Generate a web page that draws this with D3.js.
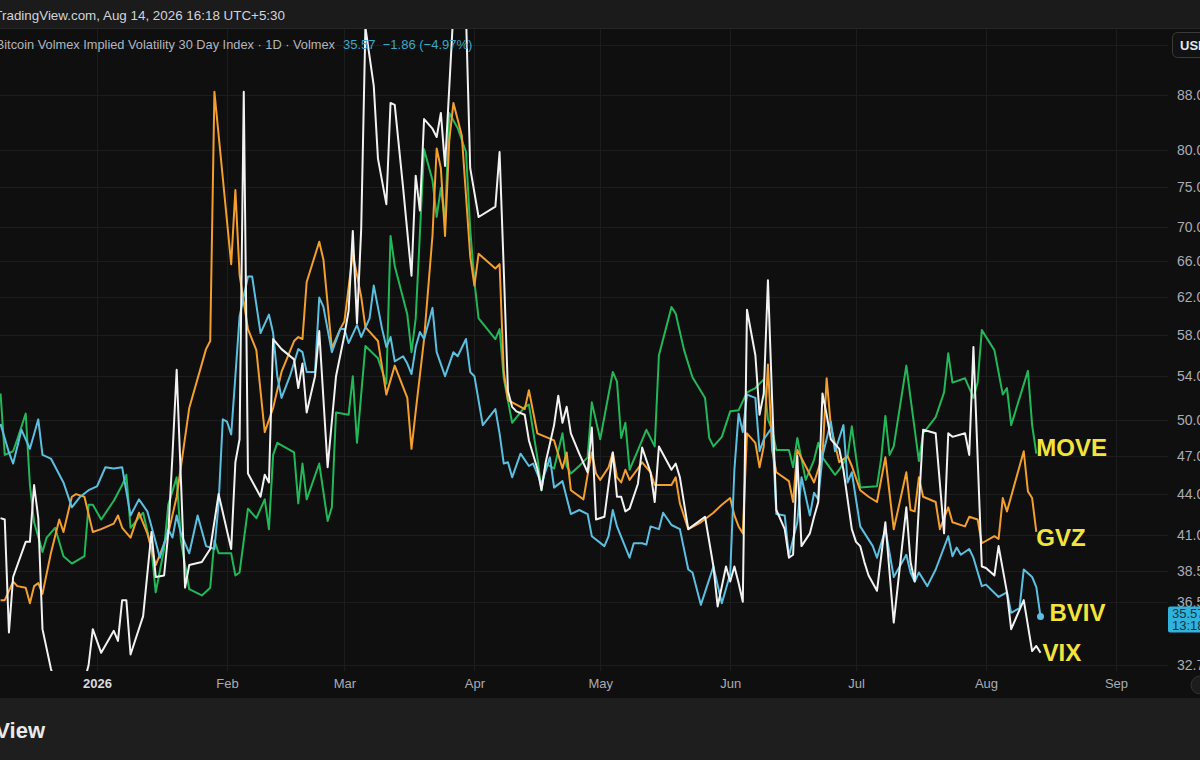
<!DOCTYPE html>
<html lang="en">
	<head>
		<meta charset="utf-8">
		<title>BVIV vs GVZ, MOVE and VIX</title>
		<script src="https://d3js.org/d3.v7.min.js"></script>
		<style type="text/css">
			html, body {
				margin: 0;
				padding: 0;
				background: #0f0f0f;
				overflow: hidden;
			}
			svg {
				display: block;
			}
		</style>
	</head>
	<body>
		<script type="text/javascript">

			//Series: [date, value]
			var bviv = [
				["2025-12-09", 49.7], ["2025-12-11", 47.3], ["2025-12-12", 46.4], ["2025-12-14", 49.2], ["2025-12-16", 47.6],
				["2025-12-18", 50.1], ["2025-12-19", 47.1], ["2025-12-21", 46.8], ["2025-12-24", 44.9], ["2025-12-26", 43.0],
				["2025-12-28", 43.8], ["2025-12-30", 44.3], ["2026-01-01", 44.6], ["2026-01-03", 46.1], ["2026-01-05", 46.0],
				["2026-01-07", 46.1], ["2026-01-09", 42.4], ["2026-01-11", 43.6], ["2026-01-13", 42.7], ["2026-01-14", 41.6],
				["2026-01-16", 39.4], ["2026-01-18", 41.4], ["2026-01-19", 40.8], ["2026-01-20", 42.4], ["2026-01-21", 41.1],
				["2026-01-23", 39.7], ["2026-01-25", 42.4], ["2026-01-27", 40.2], ["2026-01-29", 40.0], ["2026-01-30", 43.3],
				["2026-01-31", 50.1], ["2026-02-01", 49.9], ["2026-02-02", 48.8], ["2026-02-03", 54.0], ["2026-02-04", 59.9],
				["2026-02-06", 64.2], ["2026-02-07", 64.2], ["2026-02-09", 58.2], ["2026-02-11", 60.1], ["2026-02-12", 58.2],
				["2026-02-13", 54.0], ["2026-02-14", 52.0], ["2026-02-16", 54.0], ["2026-02-18", 56.6], ["2026-02-19", 56.3],
				["2026-02-20", 54.4], ["2026-02-22", 54.4], ["2026-02-23", 61.9], ["2026-02-24", 60.9], ["2026-02-26", 56.3],
				["2026-02-28", 58.6], ["2026-03-01", 58.6], ["2026-03-02", 57.2], ["2026-03-04", 59.0], ["2026-03-05", 57.8],
				["2026-03-07", 59.7], ["2026-03-08", 63.2], ["2026-03-10", 58.6], ["2026-03-11", 56.8], ["2026-03-12", 57.8],
				["2026-03-13", 55.4], ["2026-03-15", 55.9], ["2026-03-16", 55.2], ["2026-03-17", 54.2], ["2026-03-18", 56.8],
				["2026-03-19", 58.3], ["2026-03-20", 57.6], ["2026-03-22", 60.8], ["2026-03-23", 56.3], ["2026-03-25", 54.0],
				["2026-03-27", 56.3], ["2026-03-28", 55.9], ["2026-03-30", 57.6], ["2026-03-31", 54.4], ["2026-04-01", 54.0],
				["2026-04-03", 49.6], ["2026-04-06", 51.0], ["2026-04-07", 48.9], ["2026-04-08", 46.4], ["2026-04-09", 46.5],
				["2026-04-10", 45.3], ["2026-04-12", 47.2], ["2026-04-14", 46.2], ["2026-04-15", 46.4], ["2026-04-16", 45.6],
				["2026-04-17", 44.8], ["2026-04-19", 46.9], ["2026-04-20", 44.5], ["2026-04-22", 45.0], ["2026-04-24", 42.5],
				["2026-04-26", 42.8], ["2026-04-28", 42.5], ["2026-04-29", 40.9], ["2026-05-02", 40.2], ["2026-05-03", 40.9],
				["2026-05-04", 42.8], ["2026-05-05", 41.6], ["2026-05-08", 39.4], ["2026-05-09", 40.4], ["2026-05-11", 40.4],
				["2026-05-12", 40.3], ["2026-05-13", 41.6], ["2026-05-15", 41.4], ["2026-05-16", 42.6], ["2026-05-18", 41.7],
				["2026-05-20", 41.4], ["2026-05-22", 38.6], ["2026-05-23", 38.4], ["2026-05-25", 36.3], ["2026-05-28", 38.8],
				["2026-05-30", 36.4], ["2026-06-01", 38.3], ["2026-06-02", 45.9], ["2026-06-03", 50.6], ["2026-06-04", 49.0],
				["2026-06-05", 52.3], ["2026-06-07", 52.0], ["2026-06-08", 47.4], ["2026-06-09", 48.4], ["2026-06-11", 49.4],
				["2026-06-12", 42.5], ["2026-06-14", 42.4], ["2026-06-15", 39.5], ["2026-06-17", 41.9], ["2026-06-18", 45.3],
				["2026-06-20", 42.4], ["2026-06-21", 44.1], ["2026-06-22", 43.6], ["2026-06-23", 47.0], ["2026-06-25", 49.9],
				["2026-06-26", 47.4], ["2026-06-28", 49.6], ["2026-06-29", 44.9], ["2026-06-30", 45.7], ["2026-07-02", 41.6],
				["2026-07-05", 40.2], ["2026-07-06", 39.4], ["2026-07-08", 41.4], ["2026-07-10", 38.1], ["2026-07-13", 39.6],
				["2026-07-14", 38.4], ["2026-07-15", 37.8], ["2026-07-16", 38.4], ["2026-07-18", 37.5], ["2026-07-20", 38.6],
				["2026-07-23", 40.9], ["2026-07-24", 39.5], ["2026-07-25", 40.1], ["2026-07-26", 39.6], ["2026-07-28", 40.0],
				["2026-07-29", 39.4], ["2026-07-31", 37.5], ["2026-08-01", 37.6], ["2026-08-04", 36.8], ["2026-08-06", 37.1],
				["2026-08-07", 35.8], ["2026-08-09", 36.1], ["2026-08-10", 38.6], ["2026-08-12", 38.1], ["2026-08-13", 37.43],
				["2026-08-14", 35.57]
			];

			var vix = [
				["2025-12-09", 42.2], ["2025-12-10", 42.1], ["2025-12-11", 34.6], ["2025-12-12", 38.1], ["2025-12-15", 40.5],
				["2025-12-16", 40.5], ["2025-12-17", 44.7], ["2025-12-18", 42.2], ["2025-12-19", 34.8], ["2025-12-21", 32.5],
				["2025-12-23", 30.8], ["2025-12-26", 31.2], ["2025-12-28", 30.9], ["2025-12-30", 32.7], ["2025-12-31", 34.8],
				["2026-01-02", 33.4], ["2026-01-05", 34.7], ["2026-01-06", 34.1], ["2026-01-07", 36.6], ["2026-01-08", 36.6],
				["2026-01-09", 33.3], ["2026-01-12", 35.6], ["2026-01-14", 41.2], ["2026-01-15", 38.1], ["2026-01-17", 38.2],
				["2026-01-18", 41.1], ["2026-01-19", 47.1], ["2026-01-20", 54.6], ["2026-01-21", 45.2], ["2026-01-22", 37.4],
				["2026-01-23", 38.9], ["2026-01-26", 39.1], ["2026-01-28", 40.0], ["2026-01-30", 44.0], ["2026-02-02", 40.0],
				["2026-02-03", 46.5], ["2026-02-04", 48.4], ["2026-02-05", 88.5], ["2026-02-06", 45.6], ["2026-02-09", 43.8],
				["2026-02-10", 45.5], ["2026-02-11", 44.9], ["2026-02-12", 57.6], ["2026-02-14", 56.6], ["2026-02-17", 55.6],
				["2026-02-18", 52.9], ["2026-02-19", 55.2], ["2026-02-20", 50.7], ["2026-02-22", 54.0], ["2026-02-23", 58.4],
				["2026-02-25", 46.1], ["2026-02-27", 54.0], ["2026-03-01", 58.0], ["2026-03-02", 60.5], ["2026-03-03", 69.5],
				["2026-03-04", 59.2], ["2026-03-05", 69.7], ["2026-03-06", 99.0], ["2026-03-08", 89.4], ["2026-03-09", 78.8],
				["2026-03-11", 72.8], ["2026-03-12", 86.8], ["2026-03-13", 86.5], ["2026-03-15", 74.9], ["2026-03-17", 64.3],
				["2026-03-18", 76.5], ["2026-03-19", 72.0], ["2026-03-20", 84.4], ["2026-03-22", 83.0], ["2026-03-23", 81.8],
				["2026-03-24", 85.3], ["2026-03-25", 77.8], ["2026-03-27", 102], ["2026-03-28", 104], ["2026-03-30", 101],
				["2026-03-31", 77.5], ["2026-04-02", 71.2], ["2026-04-06", 72.5], ["2026-04-07", 79.7], ["2026-04-08", 65.0],
				["2026-04-09", 52.6], ["2026-04-10", 51.2], ["2026-04-11", 50.8], ["2026-04-13", 50.5], ["2026-04-14", 48.3],
				["2026-04-16", 46.0], ["2026-04-17", 44.3], ["2026-04-18", 46.5], ["2026-04-20", 49.6], ["2026-04-21", 52.2],
				["2026-04-22", 49.8], ["2026-04-23", 51.2], ["2026-04-24", 48.9], ["2026-04-26", 47.2], ["2026-04-28", 45.7],
				["2026-04-29", 49.4], ["2026-04-30", 42.1], ["2026-05-02", 42.3], ["2026-05-04", 47.3], ["2026-05-05", 43.8],
				["2026-05-06", 43.8], ["2026-05-07", 42.7], ["2026-05-08", 42.9], ["2026-05-10", 44.8], ["2026-05-11", 47.7],
				["2026-05-13", 45.7], ["2026-05-14", 43.4], ["2026-05-15", 47.8], ["2026-05-18", 45.9], ["2026-05-19", 46.4],
				["2026-05-20", 45.3], ["2026-05-22", 41.4], ["2026-05-26", 42.3], ["2026-05-28", 38.8], ["2026-05-29", 36.2],
				["2026-05-31", 38.8], ["2026-06-01", 37.8], ["2026-06-02", 38.8], ["2026-06-03", 37.7], ["2026-06-04", 36.5],
				["2026-06-05", 60.6], ["2026-06-07", 56.0], ["2026-06-08", 50.5], ["2026-06-09", 52.4], ["2026-06-10", 63.8],
				["2026-06-11", 51.8], ["2026-06-12", 42.8], ["2026-06-14", 41.4], ["2026-06-15", 39.4], ["2026-06-16", 39.6],
				["2026-06-17", 47.0], ["2026-06-18", 40.2], ["2026-06-20", 41.1], ["2026-06-21", 42.3], ["2026-06-22", 43.4],
				["2026-06-23", 52.4], ["2026-06-24", 50.5], ["2026-06-25", 48.4], ["2026-06-27", 47.6], ["2026-06-28", 45.9],
				["2026-06-30", 41.4], ["2026-07-01", 40.5], ["2026-07-02", 40.2], ["2026-07-03", 39.1], ["2026-07-04", 38.2],
				["2026-07-06", 37.2], ["2026-07-08", 41.9], ["2026-07-10", 35.2], ["2026-07-13", 43.0], ["2026-07-14", 39.1],
				["2026-07-15", 37.8], ["2026-07-17", 49.2], ["2026-07-20", 48.9], ["2026-07-22", 41.1], ["2026-07-23", 48.9],
				["2026-07-24", 48.6], ["2026-07-27", 48.9], ["2026-07-28", 47.1], ["2026-07-29", 56.8], ["2026-07-31", 38.8],
				["2026-08-01", 38.7], ["2026-08-03", 38.2], ["2026-08-04", 40.2], ["2026-08-06", 37.1], ["2026-08-07", 34.8],
				["2026-08-10", 36.6], ["2026-08-12", 33.5], ["2026-08-13", 33.8], ["2026-08-14", 33.4]
			];

			var gvz = [
				["2025-12-09", 36.6], ["2025-12-10", 36.6], ["2025-12-12", 37.8], ["2025-12-13", 37.5], ["2025-12-15", 37.4],
				["2025-12-16", 36.4], ["2025-12-17", 37.5], ["2025-12-18", 37.7], ["2025-12-19", 37.0], ["2025-12-21", 39.7],
				["2025-12-23", 42.1], ["2025-12-24", 41.2], ["2025-12-26", 43.8], ["2025-12-27", 44.0], ["2025-12-29", 43.8],
				["2025-12-31", 41.2], ["2026-01-02", 41.4], ["2026-01-05", 41.8], ["2026-01-06", 42.4], ["2026-01-07", 41.5],
				["2026-01-09", 40.8], ["2026-01-11", 42.6], ["2026-01-13", 41.1], ["2026-01-15", 38.9], ["2026-01-18", 41.1],
				["2026-01-20", 43.8], ["2026-01-21", 46.1], ["2026-01-23", 51.1], ["2026-01-27", 56.6], ["2026-01-28", 57.4],
				["2026-01-29", 88.5], ["2026-02-02", 65.6], ["2026-02-03", 74.6], ["2026-02-04", 64.4], ["2026-02-06", 58.6],
				["2026-02-08", 56.5], ["2026-02-10", 49.0], ["2026-02-12", 51.1], ["2026-02-14", 54.4], ["2026-02-17", 57.4],
				["2026-02-18", 57.8], ["2026-02-19", 57.6], ["2026-02-20", 63.6], ["2026-02-23", 68.2], ["2026-02-24", 66.1],
				["2026-02-26", 56.7], ["2026-02-28", 58.6], ["2026-03-01", 59.4], ["2026-03-03", 66.8], ["2026-03-05", 62.0],
				["2026-03-06", 58.8], ["2026-03-09", 57.4], ["2026-03-10", 54.8], ["2026-03-11", 52.3], ["2026-03-13", 55.0],
				["2026-03-16", 52.0], ["2026-03-17", 47.6], ["2026-03-18", 50.8], ["2026-03-20", 57.6], ["2026-03-22", 68.9],
				["2026-03-23", 80.2], ["2026-03-24", 77.5], ["2026-03-25", 68.9], ["2026-03-26", 81.3], ["2026-03-27", 86.8],
				["2026-03-29", 82.0], ["2026-03-31", 66.5], ["2026-04-01", 63.2], ["2026-04-02", 66.8], ["2026-04-06", 65.1],
				["2026-04-07", 65.6], ["2026-04-08", 54.4], ["2026-04-09", 51.8], ["2026-04-13", 51.0], ["2026-04-14", 52.7],
				["2026-04-16", 48.9], ["2026-04-20", 48.3], ["2026-04-22", 46.0], ["2026-04-23", 47.3], ["2026-04-24", 44.3],
				["2026-04-27", 43.6], ["2026-04-28", 45.5], ["2026-04-29", 47.3], ["2026-04-30", 45.6], ["2026-05-01", 45.1],
				["2026-05-03", 46.1], ["2026-05-04", 47.3], ["2026-05-05", 45.3], ["2026-05-06", 44.9], ["2026-05-07", 45.9],
				["2026-05-08", 45.1], ["2026-05-10", 46.0], ["2026-05-11", 46.5], ["2026-05-13", 45.7], ["2026-05-14", 44.7],
				["2026-05-15", 44.7], ["2026-05-18", 44.7], ["2026-05-19", 45.3], ["2026-05-20", 43.3], ["2026-05-22", 41.4],
				["2026-05-25", 41.9], ["2026-05-28", 42.6], ["2026-05-30", 43.2], ["2026-06-01", 43.7], ["2026-06-02", 42.4],
				["2026-06-03", 41.6], ["2026-06-04", 41.1], ["2026-06-05", 48.9], ["2026-06-07", 48.1], ["2026-06-08", 46.1],
				["2026-06-09", 47.8], ["2026-06-10", 55.1], ["2026-06-11", 47.5], ["2026-06-12", 45.7], ["2026-06-15", 45.0],
				["2026-06-16", 43.4], ["2026-06-17", 47.5], ["2026-06-21", 44.9], ["2026-06-23", 47.0], ["2026-06-24", 53.8],
				["2026-06-25", 49.5], ["2026-06-27", 46.5], ["2026-06-29", 47.0], ["2026-06-30", 46.2], ["2026-07-02", 44.3],
				["2026-07-04", 43.8], ["2026-07-06", 43.4], ["2026-07-08", 46.9], ["2026-07-10", 41.4], ["2026-07-13", 45.7],
				["2026-07-14", 42.8], ["2026-07-15", 42.7], ["2026-07-16", 45.3], ["2026-07-17", 43.8], ["2026-07-20", 43.4],
				["2026-07-21", 41.4], ["2026-07-23", 43.0], ["2026-07-24", 41.9], ["2026-07-27", 41.6], ["2026-07-28", 42.3],
				["2026-07-30", 42.1], ["2026-07-31", 40.4], ["2026-08-03", 40.9], ["2026-08-04", 40.7], ["2026-08-05", 43.7],
				["2026-08-06", 42.7], ["2026-08-10", 47.4], ["2026-08-11", 44.2], ["2026-08-12", 43.7], ["2026-08-13", 41.2]
			];

			var move = [
				["2025-12-09", 52.4], ["2025-12-10", 47.1], ["2025-12-12", 47.4], ["2025-12-13", 48.4], ["2025-12-15", 50.6],
				["2025-12-16", 44.7], ["2025-12-17", 41.9], ["2025-12-19", 39.8], ["2025-12-20", 40.8], ["2025-12-22", 41.5],
				["2025-12-24", 39.5], ["2025-12-26", 39.0], ["2025-12-29", 39.5], ["2025-12-30", 43.2], ["2025-12-31", 43.2],
				["2026-01-02", 42.1], ["2026-01-05", 43.5], ["2026-01-07", 44.7], ["2026-01-08", 45.5], ["2026-01-09", 41.5],
				["2026-01-12", 42.6], ["2026-01-14", 40.0], ["2026-01-15", 37.1], ["2026-01-17", 40.0], ["2026-01-18", 43.2],
				["2026-01-20", 45.3], ["2026-01-21", 40.6], ["2026-01-23", 37.3], ["2026-01-26", 36.9], ["2026-01-28", 37.4],
				["2026-01-29", 40.6], ["2026-01-30", 39.7], ["2026-02-02", 39.7], ["2026-02-03", 38.2], ["2026-02-04", 38.4],
				["2026-02-06", 42.9], ["2026-02-08", 42.2], ["2026-02-10", 43.6], ["2026-02-11", 41.4], ["2026-02-12", 47.1],
				["2026-02-13", 48.1], ["2026-02-17", 47.3], ["2026-02-18", 43.3], ["2026-02-19", 46.4], ["2026-02-20", 43.6],
				["2026-02-23", 46.4], ["2026-02-25", 42.0], ["2026-02-26", 43.0], ["2026-02-27", 50.7], ["2026-03-02", 50.5],
				["2026-03-03", 54.0], ["2026-03-04", 48.1], ["2026-03-06", 56.9], ["2026-03-09", 55.7], ["2026-03-11", 53.3],
				["2026-03-12", 68.9], ["2026-03-13", 65.4], ["2026-03-16", 60.1], ["2026-03-17", 56.3], ["2026-03-18", 59.7],
				["2026-03-20", 80.1], ["2026-03-22", 75.9], ["2026-03-23", 71.2], ["2026-03-24", 74.9], ["2026-03-25", 70.7],
				["2026-03-26", 85.3], ["2026-03-28", 83.1], ["2026-03-30", 79.7], ["2026-03-31", 69.7], ["2026-04-01", 63.6],
				["2026-04-02", 59.7], ["2026-04-06", 57.6], ["2026-04-07", 58.6], ["2026-04-08", 53.8], ["2026-04-10", 49.8],
				["2026-04-13", 51.2], ["2026-04-14", 51.4], ["2026-04-16", 46.9], ["2026-04-17", 44.3], ["2026-04-18", 46.4],
				["2026-04-20", 46.0], ["2026-04-22", 48.9], ["2026-04-23", 46.2], ["2026-04-24", 45.6], ["2026-04-26", 46.2],
				["2026-04-28", 46.9], ["2026-04-29", 51.6], ["2026-05-01", 48.4], ["2026-05-04", 54.4], ["2026-05-05", 53.5],
				["2026-05-06", 48.5], ["2026-05-07", 49.8], ["2026-05-08", 45.9], ["2026-05-10", 47.5], ["2026-05-12", 49.2],
				["2026-05-14", 47.8], ["2026-05-15", 56.0], ["2026-05-18", 60.9], ["2026-05-19", 60.2], ["2026-05-21", 56.5],
				["2026-05-23", 53.9], ["2026-05-26", 52.0], ["2026-05-27", 48.5], ["2026-05-28", 47.8], ["2026-05-30", 48.6],
				["2026-06-01", 50.8], ["2026-06-03", 50.9], ["2026-06-05", 52.5], ["2026-06-07", 52.9], ["2026-06-09", 53.7],
				["2026-06-10", 50.1], ["2026-06-11", 49.2], ["2026-06-12", 47.5], ["2026-06-15", 47.5], ["2026-06-16", 46.1],
				["2026-06-17", 48.5], ["2026-06-19", 45.1], ["2026-06-21", 46.7], ["2026-06-22", 48.1], ["2026-06-23", 46.9],
				["2026-06-26", 45.5], ["2026-06-27", 45.9], ["2026-06-29", 47.0], ["2026-06-30", 49.5], ["2026-07-02", 44.5],
				["2026-07-06", 44.6], ["2026-07-07", 46.8], ["2026-07-08", 50.4], ["2026-07-09", 47.1], ["2026-07-10", 47.8],
				["2026-07-13", 55.0], ["2026-07-14", 52.0], ["2026-07-16", 46.6], ["2026-07-17", 48.9], ["2026-07-20", 50.3],
				["2026-07-22", 52.5], ["2026-07-23", 56.2], ["2026-07-24", 53.4], ["2026-07-27", 53.8], ["2026-07-29", 52.0],
				["2026-07-30", 53.4], ["2026-07-31", 58.5], ["2026-08-03", 56.5], ["2026-08-05", 52.3], ["2026-08-06", 52.9],
				["2026-08-07", 49.6], ["2026-08-11", 54.5], ["2026-08-12", 49.6], ["2026-08-13", 47.2]
			];

			//Axis ticks and labels
			var gridTicks = [96, 88, 80, 75, 70, 66, 62, 58, 54, 50, 47, 44, 41, 38.5, 36.5, 32.7];
			var priceTicks = [88, 80, 75, 70, 66, 62, 58, 54, 50, 47, 44, 41, 38.5, 36.5, 32.7];
			var monthDates = ["2026-01-01", "2026-02-01", "2026-03-01", "2026-04-01", "2026-05-01", "2026-06-01", "2026-07-01", "2026-08-01", "2026-09-01"];
			var monthLabels = ["2026", "Feb", "Mar", "Apr", "May", "Jun", "Jul", "Aug", "Sep"];

			var seriesNames = ["MOVE", "GVZ", "BVIV", "VIX"];
			var seriesColors = ["#22b85a", "#f29f2e", "#5bbfe0", "#f2f2f2"];

			var lastValue = "35.57";
			var lastChange = "\u22121.86 (\u22124.97%)";

			//Width and height
			var w = 1200;
			var h = 760;
			var paneTop = 28;
			var paneBottom = 671;
			var paneRight = 1168;
			var footerTop = 698;

			var uiFont = "'Liberation Sans', Arial, sans-serif";

			var parseDate = d3.timeParse("%Y-%m-%d");

			//Create scale functions
			var xScale = d3.scaleTime()
					.domain([parseDate(monthDates[0]), parseDate(monthDates[monthDates.length - 1])])
					.range([97, 1116]);

			var yScale = d3.scaleLog()
					.domain([32.7, 88])
					.range([665, 95]);

			//Create SVG element
			var svg = d3.select("body")
						.append("svg")
						.attr("width", w)
						.attr("height", h)
						.style("font-family", uiFont);

			//Backgrounds
			svg.append("rect").attr("x", 0).attr("y", 0).attr("width", w).attr("height", h).attr("fill", "#0f0f0f");
			svg.append("rect").attr("x", 0).attr("y", 0).attr("width", w).attr("height", paneTop).attr("fill", "#1b1b1b");
			svg.append("rect").attr("x", 0).attr("y", footerTop).attr("width", w).attr("height", h - footerTop).attr("fill", "#1e1e1e");
			svg.append("line")
				.attr("x1", 0).attr("x2", w)
				.attr("y1", paneTop + 0.5).attr("y2", paneTop + 0.5)
				.attr("stroke", "#262626");

			//Grid lines
			var grid = svg.append("g");

			grid.selectAll("line.h")
				.data(gridTicks)
				.enter()
				.append("line")
				.attr("class", "h")
				.attr("x1", 0)
				.attr("x2", paneRight)
				.attr("y1", function(d) { return Math.round(yScale(d)) + 0.5; })
				.attr("y2", function(d) { return Math.round(yScale(d)) + 0.5; })
				.attr("stroke", "#1d1d1d");

			grid.selectAll("line.v")
				.data(monthDates)
				.enter()
				.append("line")
				.attr("class", "v")
				.attr("x1", function(d) { return Math.round(xScale(parseDate(d))) + 0.5; })
				.attr("x2", function(d) { return Math.round(xScale(parseDate(d))) + 0.5; })
				.attr("y1", paneTop + 1)
				.attr("y2", paneBottom)
				.attr("stroke", "#1d1d1d");

			//Clip for the series
			svg.append("clipPath")
				.attr("id", "pane")
				.append("rect")
				.attr("x", 0)
				.attr("y", paneTop + 1)
				.attr("width", paneRight)
				.attr("height", paneBottom - paneTop - 1);

			var line = d3.line()
					.x(function(d) { return xScale(parseDate(d[0])); })
					.y(function(d) { return yScale(d[1]); });

			var allSeries = [move, gvz, bviv, vix];

			//Create lines
			svg.append("g")
				.attr("clip-path", "url(#pane)")
				.selectAll("path")
				.data(allSeries)
				.enter()
				.append("path")
				.attr("d", line)
				.attr("fill", "none")
				.attr("stroke", function(d, i) { return seriesColors[i]; })
				.attr("stroke-width", 2)
				.attr("stroke-linejoin", "round");

			//Last point dot on BVIV
			var lastB = bviv[bviv.length - 1];
			svg.append("circle")
				.attr("cx", xScale(parseDate(lastB[0])))
				.attr("cy", yScale(lastB[1]))
				.attr("r", 3.5)
				.attr("fill", seriesColors[2]);

			//Series labels next to the line ends
			var labelOffsets = [[0, -6], [0, 6], [9, -4], [2, 0]];
			svg.selectAll("text.name")
				.data(allSeries)
				.enter()
				.append("text")
				.attr("class", "name")
				.attr("x", function(d, i) { return xScale(parseDate(d[d.length - 1][0])) + labelOffsets[i][0]; })
				.attr("y", function(d, i) { return yScale(d[d.length - 1][1]) + labelOffsets[i][1] + 8.5; })
				.text(function(d, i) { return seriesNames[i]; })
				.attr("font-family", "'Liberation Sans', Arial, sans-serif")
				.attr("font-weight", "bold")
				.attr("font-size", "24px")
				.attr("fill", "#f3e43c");

			//Create price axis
			var yAxis = d3.axisRight(yScale)
					.tickValues(priceTicks)
					.tickFormat(d3.format(".1f"))
					.tickSize(0)
					.tickPadding(9);

			var yG = svg.append("g")
				.attr("transform", "translate(" + paneRight + ",0)")
				.call(yAxis);
			yG.select(".domain").remove();
			yG.selectAll("text")
				.attr("fill", "#a9acb5")
				.attr("font-size", "14px")
				.attr("font-family", uiFont);

			//Create time axis
			var xAxis = d3.axisBottom(xScale)
					.tickValues(monthDates.map(parseDate))
					.tickFormat(function(d, i) { return monthLabels[i]; })
					.tickSize(0)
					.tickPadding(0);

			var xG = svg.append("g")
				.attr("transform", "translate(0," + 679 + ")")
				.call(xAxis);
			xG.select(".domain").remove();
			xG.selectAll("text")
				.attr("fill", function(d, i) { return i == 0 ? "#d8dae0" : "#a9acb5"; })
				.attr("font-weight", function(d, i) { return i == 0 ? "bold" : "normal"; })
				.attr("font-size", "13px")
				.attr("font-family", uiFont);

			//Last value box on price axis
			var boxY = yScale(lastB[1]) - 10;
			svg.append("rect")
				.attr("x", paneRight)
				.attr("y", boxY)
				.attr("width", 40)
				.attr("height", 26)
				.attr("rx", 2)
				.attr("fill", "#2fb3dd");
			svg.append("text")
				.attr("x", paneRight + 4)
				.attr("y", boxY + 11)
				.text(lastValue)
				.attr("font-size", "13px")
				.attr("fill", "#0b3347");
			svg.append("text")
				.attr("x", paneRight + 4)
				.attr("y", boxY + 23.5)
				.text("13:18:42")
				.attr("font-size", "13px")
				.attr("fill", "#0b3347");

			//USD button
			svg.append("rect")
				.attr("x", 1172.5)
				.attr("y", 32.5)
				.attr("width", 40)
				.attr("height", 25)
				.attr("rx", 5)
				.attr("fill", "#121212")
				.attr("stroke", "#3a3a3a");
			svg.append("text")
				.attr("x", 1180)
				.attr("y", 50)
				.text("USD")
				.attr("font-size", "13px")
				.attr("font-weight", "bold")
				.attr("fill", "#e6e7ea");

			//Header texts
			svg.append("text")
				.attr("x", 285)
				.attr("y", 20)
				.attr("text-anchor", "end")
				.text("BVIV published on TradingView.com, Aug 14, 2026 16:18 UTC+5:30")
				.attr("font-size", "13.4px")
				.attr("fill", "#d1d4dc");

			svg.append("text")
				.attr("x", 335)
				.attr("y", 49)
				.attr("text-anchor", "end")
				.text("Bitcoin Volmex Implied Volatility 30 Day Index \u00b7 1D \u00b7 Volmex")
				.attr("font-size", "12.8px")
				.attr("fill", "#b2b5be");

			svg.append("text")
				.attr("x", 343)
				.attr("y", 49)
				.text(lastValue + "  " + lastChange)
				.style("white-space", "pre")
				.attr("font-size", "13px")
				.attr("fill", "#3aa6c8");

			//Footer logo text
			svg.append("text")
				.attr("x", 45)
				.attr("y", 738)
				.attr("text-anchor", "end")
				.text("TradingView")
				.attr("font-size", "22px")
				.attr("font-weight", "bold")
				.attr("fill", "#e9e9ea");

			//Corner button
			svg.append("circle")
				.attr("cx", 1200)
				.attr("cy", 685)
				.attr("r", 9)
				.attr("fill", "#1c1c1c")
				.attr("stroke", "#333");

		</script>
	</body>
</html>
